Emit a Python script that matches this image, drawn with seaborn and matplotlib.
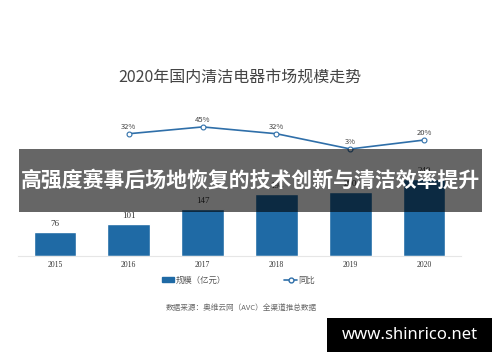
import matplotlib
matplotlib.use("Agg")
import numpy as np
import pandas as pd
import seaborn as sns
import matplotlib.pyplot as plt
from matplotlib.patches import Rectangle
from matplotlib.lines import Line2D

years = ["2015", "2016", "2017", "2018", "2019", "2020"]
scale = [76, 101, 147, 194, 200, 240]
growth_years = ["2016", "2017", "2018", "2019", "2020"]
growth = [32, 45, 32, 3, 20]

title = "2020年国内清洁电器市场规模走势"
banner = "高强度赛事后场地恢复的技术创新与清洁效率提升"
source = "数据来源：奥维云网（AVC）全渠道推总数据"
site = "www.shinrico.net"

sns.set_theme(style="white")
plt.rcParams['font.family'] = ['Noto Sans CJK SC', 'DejaVu Sans']

bar_c = "#1f6aa5"
line_c = "#2f6fa9"

df = pd.DataFrame({"year": years, "scale": scale})
gdf = pd.DataFrame({"pos": [years.index(y) for y in growth_years], "growth": growth})

fig = plt.figure(figsize=(5, 3.62), dpi=100)
ax = fig.add_axes([0.036, 0.293, 0.886, 0.431])
sns.barplot(data=df, x="year", y="scale", color=bar_c, width=0.58, saturation=1, ax=ax)
ax.set_xlim(-0.5, 5.5)
ax.set_ylim(0, 487)
for i, v in enumerate(scale):
    ax.text(i, v + 12, str(v), ha="center", va="bottom", fontsize=6.5,
            family="Liberation Serif", color="#333333")

ax2 = ax.twinx()
sns.lineplot(data=gdf, x="pos", y="growth", color=line_c, lw=1.2, marker="o",
             markersize=3.5, markerfacecolor="white", markeredgecolor=line_c,
             markeredgewidth=0.8, ax=ax2)
ax2.set_ylim(-201, 96.5)
for p, g in zip(gdf["pos"], growth):
    ax2.text(p, g + 6, f"{g}%", ha="center", va="bottom", fontsize=5.5, color="#444444")

for a in (ax, ax2):
    a.set_xlabel("")
    a.set_ylabel("")
    a.set_yticks([])
    for s in a.spines.values():
        s.set_visible(False)
ax.spines["bottom"].set_visible(True)
ax.spines["bottom"].set_color("#e6e6e6")
ax.spines["bottom"].set_linewidth(0.8)
ax.tick_params(axis="x", length=0, pad=4)
for t in ax.get_xticklabels():
    t.set_fontsize(5.5)
    t.set_family("Liberation Serif")
    t.set_color("#333333")

fig.text(0.48, 0.787, title, ha="center", va="center", fontsize=11.5, color="#444444")

handles = [Rectangle((0, 0), 1, 1, color=bar_c),
           Line2D([0], [0], color=line_c, lw=1.2, marker="o", markersize=3.5,
                  markerfacecolor="white", markeredgecolor=line_c)]
fig.legend(handles, ["规模（亿元）", "同比"], loc="center", bbox_to_anchor=(0.477, 0.226),
           ncol=2, frameon=False, fontsize=6, handlelength=1.5, handleheight=0.6,
           columnspacing=7, handletextpad=0.2, labelcolor="#555555")

fig.text(0.482, 0.149, source, ha="center", va="center", fontsize=5.5, color="#666666")

fig.patches.append(Rectangle((0.038, 0.414), 0.926, 0.174, transform=fig.transFigure,
                             facecolor="black", alpha=0.6, edgecolor="none", zorder=5))
fig.text(0.5, 0.501, banner, ha="center", va="center", fontsize=15, fontweight="bold",
         color="white", zorder=6)

fig.patches.append(Rectangle((0.654, 0.028), 0.33, 0.094, transform=fig.transFigure,
                             facecolor="black", edgecolor="none", zorder=5))
fig.text(0.819, 0.075, site, ha="center", va="center", fontsize=12, fontweight="bold",
         family="Noto Sans", color="white", zorder=6)

fig.savefig("out.png", dpi=100)
